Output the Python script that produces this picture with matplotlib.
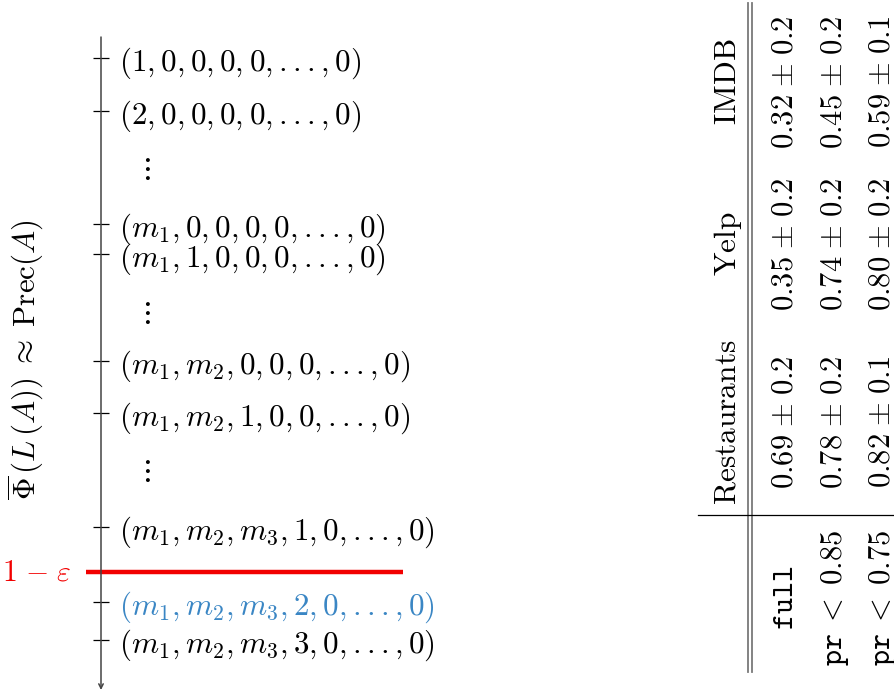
import matplotlib
matplotlib.use("Agg")
import matplotlib.pyplot as plt
from matplotlib.lines import Line2D

plt.rcParams["mathtext.fontset"] = "cm"

# ordering of the label vectors along the sorted axis (top = 0)
tuple_labels = [
    r"$(1,0,0,0,0,...,0)$",
    r"$(2,0,0,0,0,...,0)$",
    r"$(m_1,0,0,0,0,...,0)$",
    r"$(m_1,1,0,0,0,...,0)$",
    r"$(m_1,m_2,0,0,0,...,0)$",
    r"$(m_1,m_2,1,0,0,...,0)$",
    r"$(m_1,m_2,m_3,1,0,...,0)$",
    r"$(m_1,m_2,m_3,2,0,...,0)$",
    r"$(m_1,m_2,m_3,3,0,...,0)$",
]
tuple_pos = [2.1, 7.4, 18.7, 21.7, 32.4, 37.6, 49.0, 56.5, 60.3]
gap_pos = [13.1, 27.5, 43.3]
threshold = 53.5
highlight = 7  # first label under the threshold
axis_end = 65.3

# table values
datasets = ["Restaurants", "Yelp", "IMDB"]
settings = [r"\mathtt{full}", r"\mathtt{pr}\;<\;0.85", r"\mathtt{pr}\;<\;0.75"]
means = [[0.69, 0.35, 0.32],
         [0.78, 0.74, 0.45],
         [0.82, 0.80, 0.59]]
stds = [[0.2, 0.2, 0.2],
        [0.2, 0.2, 0.2],
        [0.1, 0.2, 0.1]]

W, H = 895, 692
fig = plt.figure(figsize=(W / 100, H / 100), dpi=100)


def fx(x):
    return x / W


def fy(y):
    return 1 - y / H


FS = 22.3
BLUE = "#3a86c4"

# ---- left: ordered axis ----
left, right = 86, 403
ax = fig.add_axes([fx(left), fy(690), fx(right - left), (690 - 37) / H])
f = (101 - left) / (right - left)
ax.set_xlim(0, 1)
ax.set_ylim(axis_end, 0)
for s in ["left", "top", "bottom"]:
    ax.spines[s].set_visible(False)
ax.spines["right"].set_position(("axes", f))
ax.spines["right"].set_visible(False)
ax.set_xticks([])
ax.yaxis.tick_right()
ax.set_yticks(tuple_pos)
ax.set_yticklabels(tuple_labels, fontsize=FS)
ax.tick_params(axis="y", direction="inout", length=11.5, width=0.9, pad=7,
               colors="black")
ax.annotate("", xy=(f, 0), xytext=(f, 1), xycoords="axes fraction",
            arrowprops=dict(arrowstyle="->", lw=1.1, color="#444444",
                            shrinkA=0, shrinkB=0, mutation_scale=8))
ax.get_yticklabels()[highlight].set_color(BLUE)
ax.yaxis.get_major_ticks()[highlight].tick2line.set_color(BLUE)

for g in gap_pos:
    ax.text(0.186, g, r"$\vdots$", fontsize=FS, ha="center", va="center",
            transform=ax.get_yaxis_transform())

ax.axhline(threshold, color="#f20000", lw=3.2)
ax.text(-0.045, threshold, r"$1\hspace{0.12}-\hspace{0.12}\varepsilon$",
        color="#f20000", fontsize=21.5, ha="right", va="center",
        transform=ax.get_yaxis_transform())

fig.text(fx(26), fy(360),
         r"$\overline{\Phi}\,(L\,(A))\;\approx\;\mathrm{Prec}(A)$",
         rotation=90, fontsize=FS, ha="center", va="center")

# ---- right: rotated table ----
col_y = [422, 244, 82]
row_x = [793, 842, 890]
HFS = 22.6
TFS = 22
for name, cy in zip(datasets, col_y):
    fig.text(fx(736), fy(cy), r"$\mathrm{%s}$" % name, rotation=90,
             rotation_mode="anchor", ha="center", va="baseline", fontsize=HFS)
for i, (lab, rx) in enumerate(zip(settings, row_x)):
    fig.text(fx(rx), fy(598), "$%s$" % lab, rotation=90,
             rotation_mode="anchor", ha="center", va="baseline", fontsize=TFS)
    for j, cy in enumerate(col_y):
        fig.text(fx(rx), fy(cy),
                 r"$%.2f\hspace{0.1}\pm\hspace{0.1}%.1f$"
                 % (means[i][j], stds[i][j]),
                 rotation=90, rotation_mode="anchor", ha="center",
                 va="baseline", fontsize=TFS)

for xl in [748, 752.5]:
    fig.add_artist(Line2D([fx(xl), fx(xl)], [fy(3), fy(672)], color="#7a7a7a",
                          lw=1.3))
fig.add_artist(Line2D([fx(698), fx(W)], [fy(515), fy(515)], color="black",
                      lw=0.9))

fig.savefig("out.png", dpi=100)
